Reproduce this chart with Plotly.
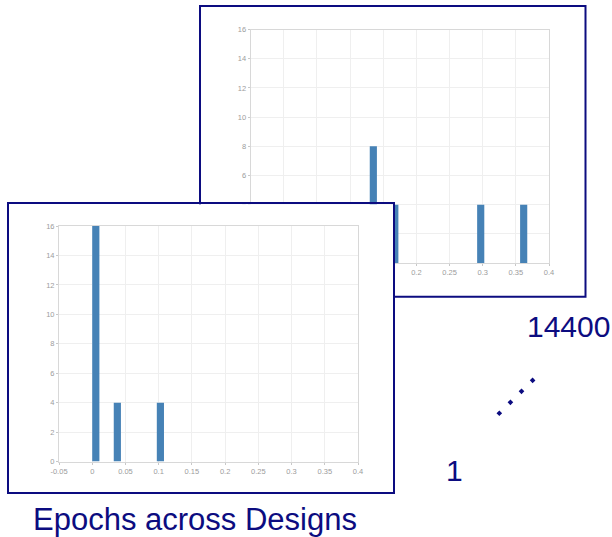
import plotly.graph_objects as go

W, H = 612, 537

# ---------------- data ----------------
bin_width = 0.0108
front_bin_centers = [0.0054, 0.0378, 0.1026]
front_counts = [16, 4, 4]
back_bin_centers = [0.135, 0.1674, 0.297, 0.3618]
back_counts = [8, 4, 4, 4]
x_tick_vals = [-0.05, 0, 0.05, 0.1, 0.15, 0.2, 0.25, 0.3, 0.35, 0.4]
x_tick_text = ["-0.05", "0", "0.05", "0.1", "0.15", "0.2", "0.25", "0.3", "0.35", "0.4"]
y_tick_vals = [0, 2, 4, 6, 8, 10, 12, 14, 16]
label_first = "1"
label_last = "14400"
caption = "Epochs across Designs"

# ---------------- style ----------------
NAVY = "#0c0c80"
BAR = "#4682b6"
GRID = "#efefef"
BOX = "#d8d8d8"
TICKC = "#9c9c9c"
FONT = "Arial, Liberation Sans, sans-serif"


def fx(px):
    return px / W


def fy(py):
    return 1 - py / H


fig = go.Figure()

fig.add_trace(go.Bar(x=back_bin_centers, y=back_counts, width=bin_width,
                     marker=dict(color=BAR, line=dict(width=0)),
                     xaxis="x", yaxis="y", showlegend=False))
# cover panel subplot (front panel background)
fig.add_trace(go.Scatter(x=[], y=[], xaxis="x2", yaxis="y2", showlegend=False))
fig.add_trace(go.Bar(x=front_bin_centers, y=front_counts, width=bin_width,
                     marker=dict(color=BAR, line=dict(width=0)),
                     xaxis="x3", yaxis="y3", showlegend=False))


def chart_x(domain, anchor):
    return dict(domain=domain, anchor=anchor, range=[-0.05, 0.4],
                tickmode="array", tickvals=x_tick_vals, ticktext=x_tick_text,
                showgrid=True, gridcolor=GRID, gridwidth=1, zeroline=False,
                showline=True, linecolor=BOX, linewidth=1, mirror=True,
                ticks="outside", ticklen=2, tickcolor="#c8c8c8",
                tickfont=dict(family=FONT, size=7.5, color=TICKC), fixedrange=True)


def chart_y(domain, anchor):
    return dict(domain=domain, anchor=anchor, range=[0, 16],
                tickmode="array", tickvals=y_tick_vals,
                showgrid=True, gridcolor=GRID, gridwidth=1, zeroline=False,
                showline=True, linecolor=BOX, linewidth=1, mirror=True,
                ticks="outside", ticklen=2, tickcolor="#c8c8c8",
                tickfont=dict(family=FONT, size=7.5, color=TICKC), fixedrange=True)


cover_axis = dict(range=[0, 1], showgrid=False, zeroline=False, showticklabels=False,
                  ticks="", showline=True, linecolor=NAVY, linewidth=2, mirror=True,
                  fixedrange=True)

fig.update_layout(
    width=W, height=H, autosize=False,
    margin=dict(l=0, r=0, t=0, b=0, autoexpand=False),
    paper_bgcolor="white", plot_bgcolor="white",
    hovermode=False, showlegend=False,
    xaxis=chart_x([fx(250.7), fx(549)], "y"),
    yaxis=chart_y([fy(263), fy(29.5)], "x"),
    xaxis2=dict(cover_axis, domain=[fx(9), fx(393)], anchor="y2"),
    yaxis2=dict(cover_axis, domain=[fy(491.7), fy(204.3)], anchor="x2"),
    xaxis3=chart_x([fx(59), fx(358)], "y3"),
    yaxis3=chart_y([fy(461.5), fy(226)], "x3"),
)

# back panel frame
fig.add_shape(type="rect", xref="paper", yref="paper", layer="below",
              x0=fx(200), x1=fx(585.5), y0=fy(296.7), y1=fy(6),
              line=dict(color=NAVY, width=2), fillcolor="white")

# dotted diagonal
fig.add_shape(type="line", xref="paper", yref="paper", layer="above",
              x0=fx(497.9), y0=fy(414.7), x1=fx(534.1), y1=fy(378.9),
              line=dict(color=NAVY, width=4, dash="4px,11.6px"))

ann_font = dict(family=FONT, size=30, color=NAVY)
fig.add_annotation(text=label_last, xref="paper", yref="paper", x=fx(568), y=fy(326),
                   xanchor="center", yanchor="middle", showarrow=False, font=ann_font)
fig.add_annotation(text=label_first, xref="paper", yref="paper", x=fx(454.5), y=fy(470),
                   xanchor="center", yanchor="middle", showarrow=False, font=ann_font)
fig.add_annotation(text=caption, xref="paper", yref="paper", x=fx(194.5), y=fy(519),
                   xanchor="center", yanchor="middle", showarrow=False,
                   font=dict(family=FONT, size=31, color=NAVY))

fig.write_html(
    "out.html",
    config={"displayModeBar": False, "staticPlot": True},
    post_script="document.body.style.margin='0px';"
                "document.documentElement.style.overflow='hidden';",
)
